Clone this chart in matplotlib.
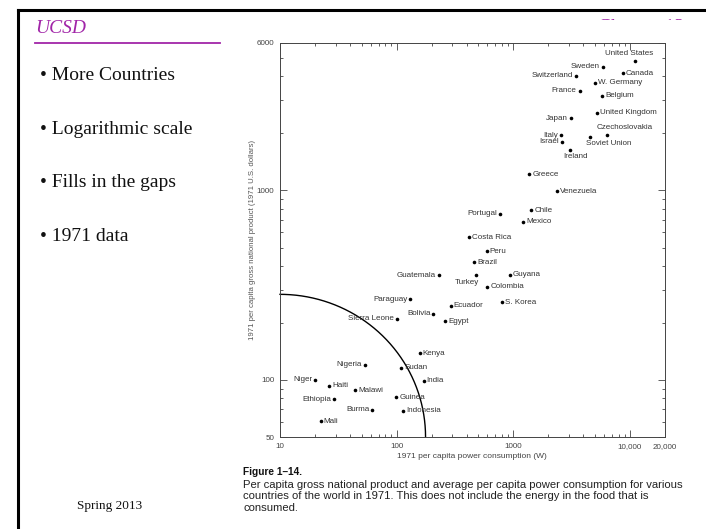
import numpy as np
import matplotlib
matplotlib.use("Agg")
import matplotlib.pyplot as plt
from matplotlib.patches import Rectangle
from matplotlib.lines import Line2D
from matplotlib.ticker import LogLocator, NullFormatter, FixedLocator, FixedFormatter

# 1971 per-capita power consumption (W) and GNP (1971 US dollars)
countries = [
    "United States", "Sweden", "Canada", "Switzerland", "W. Germany", "France",
    "Belgium", "United Kingdom", "Japan", "Czechoslovakia", "Soviet Union",
    "Italy", "Israel", "Ireland", "Greece", "Venezuela", "Chile", "Portugal",
    "Mexico", "Costa Rica", "Peru", "Brazil", "Guatemala", "Turkey", "Guyana",
    "Colombia", "S. Korea", "Ecuador", "Egypt", "Bolivia", "Paraguay",
    "Sierra Leone", "Kenya", "Nigeria", "Sudan", "Niger", "India", "Haiti",
    "Malawi", "Guinea", "Ethiopia", "Burma", "Indonesia", "Mali",
]
power_w = [
    11070, 5835, 8670, 3440, 4980, 3700,
    5790, 5210, 3130, 6400, 4510,
    2570, 2610, 3075, 1375, 2377, 1430, 764,
    1212, 416, 590, 463, 231, 482, 931,
    599, 795, 291, 262, 207, 131,
    100, 158, 53.5, 110, 20, 170, 26.4,
    44, 99.4, 29, 62, 113, 22.4,
]
gnp_usd = [
    4830, 4497, 4143, 4030, 3700, 3360,
    3160, 2573, 2400, 1964, 1923,
    1953, 1811, 1643, 1218, 991, 785, 754,
    684, 568, 477, 418, 356, 360, 360,
    310, 257, 247, 204, 224, 266,
    211, 138, 120, 116, 100, 99, 93.3,
    88.5, 81, 79, 69.5, 68.7, 60.4,
]

x_ticks = [10, 100, 1000, 10000, 20000]
x_tick_labels = ["10", "100", "1000", "10,000", "20,000"]
y_ticks = [50, 100, 1000, 6000]
y_tick_labels = ["50", "100", "1000", "6000"]

# quarter-ellipse (in log space) marking the low-income / low-energy corner
arc_power_end = 177
arc_gnp_top = 283

bullets = ["More Countries", "Logarithmic scale", "Fills in the gaps", "1971 data"]

# where each country's name sits relative to its dot: (ha, dx px, dy px)
R = ("left", 3, 0)
L = ("right", -3, 0)
label_place = {
    "United States": ("center", -6, 7), "Sweden": L, "Canada": R,
    "Switzerland": L, "W. Germany": R, "France": L, "Belgium": R,
    "United Kingdom": R, "Japan": L, "Czechoslovakia": ("center", 17, 7),
    "Soviet Union": ("center", 19, -7), "Italy": L, "Israel": L,
    "Ireland": ("center", 5, -7), "Greece": R, "Venezuela": R, "Chile": R,
    "Portugal": L, "Mexico": R, "Costa Rica": R, "Peru": R, "Brazil": R,
    "Guatemala": L, "Turkey": ("center", -9, -8), "Guyana": R, "Colombia": R,
    "S. Korea": R, "Ecuador": R, "Egypt": R, "Bolivia": L, "Paraguay": L,
    "Sierra Leone": L, "Kenya": R, "Nigeria": L, "Sudan": R, "Niger": L,
    "India": R, "Haiti": R, "Malawi": R, "Guinea": R, "Ethiopia": L,
    "Burma": L, "Indonesia": R, "Mali": R,
}

W, H = 706, 529
fig = plt.figure(figsize=(W / 100, H / 100), dpi=100)
fig.patch.set_facecolor("white")


def fx(px):
    return px / W


def fy(py):
    return 1 - py / H


purple = "#a125a8"
serif = ["Liberation Serif", "DejaVu Serif"]
sans = ["Liberation Sans", "DejaVu Sans"]

# slide frame
fig.add_artist(Line2D([fx(18), fx(706)], [fy(10), fy(10)], color="black", lw=2.2))
fig.add_artist(Line2D([fx(18), fx(18)], [fy(10), fy(529)], color="black", lw=2.2))

# header
fig.text(fx(35), fy(33), "UCSD", fontsize=14, style="italic", color=purple,
         family=serif, va="baseline")
fig.add_artist(Line2D([fx(35), fx(220)], [fy(43), fy(43)], color=purple, lw=1.3))
fig.text(fx(598), fy(32), "Chapter 13", fontsize=14, color=purple,
         family=serif, va="baseline", zorder=1)
# the pasted figure sheet hides most of the chapter heading
fig.add_artist(Rectangle((fx(560), fy(60)), fx(146), 39.5 / H, transform=fig.transFigure,
                         facecolor="white", edgecolor="none", zorder=2))

# bullet list
for i, b in enumerate(bullets):
    fig.text(fx(40), fy(80 + i * 53.7), "\u2022 " + b, fontsize=14,
             family=serif, va="baseline", color="#111111")

fig.text(fx(77), fy(509), "Spring 2013", fontsize=9.5, family=serif,
         va="baseline", color="#111111")

# scatter plot
ax = fig.add_axes([fx(280), fy(437), 385 / W, (437 - 43) / H], zorder=3)
ax.set_xscale("log")
ax.set_yscale("log")
ax.set_xlim(10, 20000)
ax.set_ylim(50, 6000)

ax.plot(power_w, gnp_usd, "o", color="black", markersize=2.6, markeredgewidth=0)

tp = np.linspace(0, np.pi / 2, 200)
lx = 1 + (np.log10(arc_power_end) - 1) * np.cos(tp)
ly = np.log10(50) + (np.log10(arc_gnp_top) - np.log10(50)) * np.sin(tp)
ax.plot(10 ** lx, 10 ** ly, color="black", lw=1.0, clip_on=False)

for name, x, y in zip(countries, power_w, gnp_usd):
    ha, dx, dy = label_place[name]
    ax.annotate(name, (x, y), xytext=(dx * 0.72, dy * 0.72), textcoords="offset points",
                ha=ha, va="center", fontsize=5.8, family=sans, color="#333333")

ax.xaxis.set_major_locator(FixedLocator(x_ticks))
ax.xaxis.set_major_formatter(FixedFormatter(x_tick_labels))
ax.xaxis.set_minor_locator(LogLocator(base=10, subs=np.arange(2, 10)))
ax.xaxis.set_minor_formatter(NullFormatter())
ax.yaxis.set_major_locator(FixedLocator(y_ticks))
ax.yaxis.set_major_formatter(FixedFormatter(y_tick_labels))
ax.yaxis.set_minor_locator(LogLocator(base=10, subs=np.arange(2, 10)))
ax.yaxis.set_minor_formatter(NullFormatter())

ax.tick_params(which="both", direction="in", top=True, right=True,
               colors="#444444", labelsize=5.8, width=0.6)
ax.tick_params(which="major", length=5, pad=4)
ax.tick_params(which="minor", length=2.5)
for lab in ax.get_xticklabels() + ax.get_yticklabels():
    lab.set_family(sans)
for s in ax.spines.values():
    s.set_color("#444444")
    s.set_linewidth(0.7)

fig.text(fx(472), fy(457), "1971 per capita power consumption (W)", fontsize=6,
         family=sans, color="#444444", ha="center", va="center")
fig.text(fx(253), fy(240), "1971 per capita gross national product (1971 U.S. dollars)",
         fontsize=5.6, family=sans, color="#555555", ha="center", va="center",
         rotation=90)

# figure caption
fig.text(fx(243), fy(472), "Figure 1\u201314.", fontsize=7.3, weight="bold",
         family=sans, color="#111111", va="center")
caption = [
    "Per capita gross national product and average per capita power consumption for various",
    "countries of the world in 1971. This does not include the energy in the food that is",
    "consumed.",
]
for i, line in enumerate(caption):
    fig.text(fx(243), fy(484.5 + i * 11.8), line, fontsize=8.1, family=sans,
             color="#222222", va="center")

fig.savefig("out.png", dpi=100)
